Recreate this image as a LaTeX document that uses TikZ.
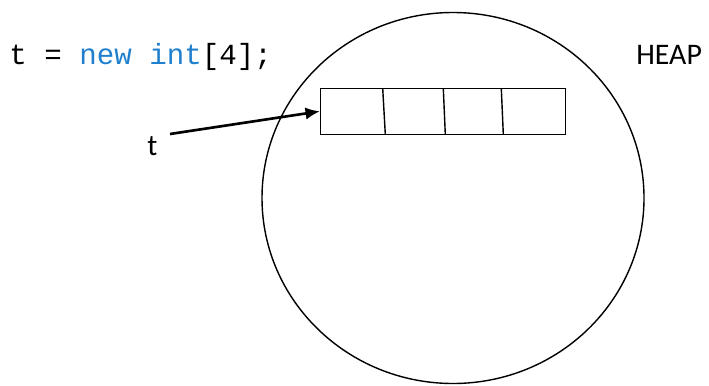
\documentclass[tikz,border=0pt]{standalone}
\usepackage{fontspec}
\usepackage{xcolor}
\setmainfont{Carlito}
\newfontfamily\codefont{Liberation Mono}
\usetikzlibrary{arrows.meta,positioning}
\definecolor{kwblue}{RGB}{32,128,206}

\begin{document}
\begin{tikzpicture}[x=0.02cm,y=-0.02cm,>={Latex[length=0.29cm,width=0.25cm]}]
  \tikzstyle{lbl}=[inner sep=0pt,anchor=base west,font=\fontsize{17}{20}\selectfont]
  \tikzstyle{cell}=[draw,line width=0.8pt,inner sep=0pt]
  \useasboundingbox (0,0) rectangle (709,385);
  % heap
  \draw[line width=0.8pt] (453,198) ellipse (191 and 185.5);
  \node[lbl] (heap) at (636,65) {HEAP};
  % statement
  \node[lbl,font=\fontsize{16.6}{19}\selectfont\codefont] (code) at (9,65) {t = \textcolor{kwblue}{new int}[4];};
  % array
  \node[cell,minimum width=245*0.02cm,minimum height=46*0.02cm] (arr) at (443.2,111.3) {};
  \draw[line width=0.8pt] (382.7,88.3) -- (385.3,134.3)
    (443.3,88.3) -- (445.3,134.3)
    (501.3,88.3) -- (503.3,134.3);
  % reference
  \node[lbl] (t) at (147,155) {t};
  \coordinate (tfrom) at (170,134);
  \draw[->,line width=1.5pt] (tfrom) -- (arr.west);
\end{tikzpicture}
\end{document}
